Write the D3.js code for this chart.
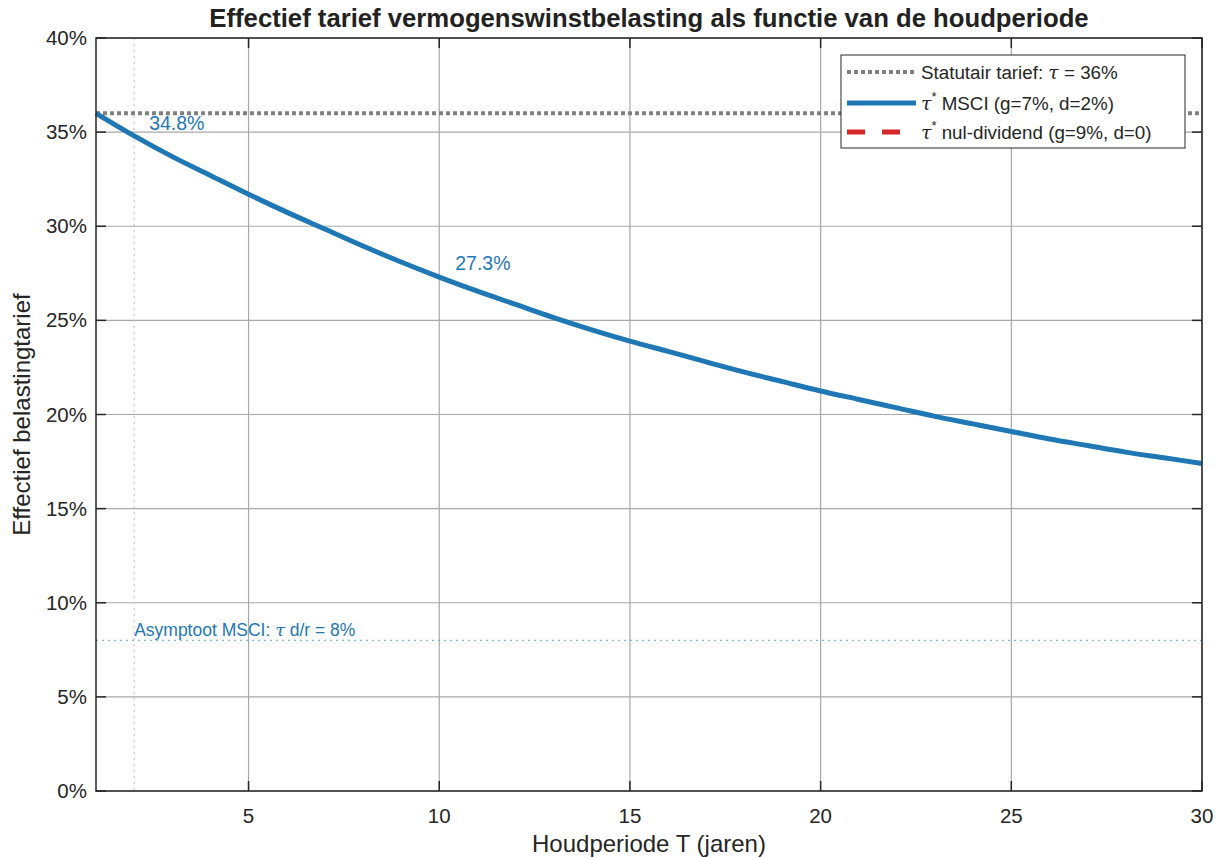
<!DOCTYPE html>
<html>
<head>
<meta charset="utf-8">
<script src="https://cdn.jsdelivr.net/npm/d3@7"></script>
<style>
  body { margin: 0; background: #fff; }
  svg { font-family: 'Liberation Sans', Arial, sans-serif; }
</style>
</head>
<body>
<svg id="chart" width="1222" height="858"></svg>
<script>
// holding period (years) and effective rate for the MSCI case (%)
const years = d3.range(1, 31)
const msciRate = [36.0, 34.8, 33.7, 32.7, 31.7, 30.75, 29.85, 28.95, 28.1, 27.3,
  26.55, 25.85, 25.15, 24.5, 23.9, 23.35, 22.8, 22.25, 21.75, 21.25,
  20.8, 20.35, 19.9, 19.5, 19.1, 18.7, 18.35, 18.0, 17.7, 17.4]
const statutoryRate = 36
const asymptoteRate = 8
const markerYear = 2
const xTicks = [5, 10, 15, 20, 25, 30]
const yTicks = [0, 5, 10, 15, 20, 25, 30, 35, 40]
const annotations = [
  { year: 2, value: 34.8, dx: 15, dy: -6 },
  { year: 10, value: 27.3, dx: 16, dy: -7 }
]

const BLUE = '#1f77b4'
const margin = { top: 38, right: 20, bottom: 67, left: 96 }
const width = 1222
const height = 858
const innerW = width - margin.left - margin.right
const innerH = height - margin.top - margin.bottom

const svg = d3.select('#chart')

const x = d3.scaleLinear().domain([1, 30]).range([0, innerW])
const y = d3.scaleLinear().domain([0, 40]).range([innerH, 0])

const g = svg.append('g').attr('transform', `translate(${margin.left},${margin.top})`)

// grid
g.append('g').selectAll('line').data(xTicks).enter().append('line')
  .attr('x1', d => x(d)).attr('x2', d => x(d))
  .attr('y1', 0).attr('y2', innerH)
  .attr('stroke', '#a8a8a8').attr('stroke-width', 1.2)

g.append('g').selectAll('line').data(yTicks).enter().append('line')
  .attr('x1', 0).attr('x2', innerW)
  .attr('y1', d => y(d)).attr('y2', d => y(d))
  .attr('stroke', '#a8a8a8').attr('stroke-width', 1.2)

// vertical marker at T = 2
g.append('line')
  .attr('x1', x(markerYear)).attr('x2', x(markerYear))
  .attr('y1', 0).attr('y2', innerH)
  .attr('stroke', '#c8c8c8').attr('stroke-width', 1.2)
  .attr('stroke-dasharray', '2,4')

// asymptote
g.append('line')
  .attr('x1', 0).attr('x2', innerW)
  .attr('y1', y(asymptoteRate)).attr('y2', y(asymptoteRate))
  .attr('stroke', '#7fb2dc').attr('stroke-width', 1.2)
  .attr('stroke-dasharray', '2,4')

g.append('text')
  .attr('x', x(markerYear)).attr('y', y(asymptoteRate) - 4)
  .attr('font-size', 17.5).attr('fill', BLUE)
  .html('Asymptoot MSCI: <tspan font-family="DejaVu Serif" font-style="italic">τ</tspan> d/r = 8%')

// statutory rate
g.append('line')
  .attr('x1', 0).attr('x2', innerW)
  .attr('y1', y(statutoryRate)).attr('y2', y(statutoryRate))
  .attr('stroke', '#808080').attr('stroke-width', 4)
  .attr('stroke-dasharray', '4,3')

// MSCI curve
const line = d3.line()
  .x((d, i) => x(years[i]))
  .y(d => y(d))
  .curve(d3.curveMonotoneX)

g.append('path')
  .datum(msciRate)
  .attr('fill', 'none')
  .attr('stroke', BLUE)
  .attr('stroke-width', 5)
  .attr('d', line)

g.selectAll('.annot').data(annotations).enter().append('text')
  .attr('class', 'annot')
  .attr('x', d => x(d.year) + d.dx)
  .attr('y', d => y(d.value) + d.dy)
  .attr('font-size', 19.5).attr('fill', BLUE)
  .text(d => d.value.toFixed(1) + '%')

// axes box
g.append('rect')
  .attr('width', innerW).attr('height', innerH)
  .attr('fill', 'none').attr('stroke', '#262626').attr('stroke-width', 1.5)

// tick marks (inside, all four sides)
const tk = 10
g.append('g').selectAll('line').data(xTicks).enter().append('line')
  .attr('x1', d => x(d)).attr('x2', d => x(d)).attr('y1', innerH).attr('y2', innerH - tk)
  .attr('stroke', '#262626').attr('stroke-width', 1.5)
g.append('g').selectAll('line').data(xTicks).enter().append('line')
  .attr('x1', d => x(d)).attr('x2', d => x(d)).attr('y1', 0).attr('y2', tk)
  .attr('stroke', '#262626').attr('stroke-width', 1.5)
g.append('g').selectAll('line').data(yTicks).enter().append('line')
  .attr('x1', 0).attr('x2', tk).attr('y1', d => y(d)).attr('y2', d => y(d))
  .attr('stroke', '#262626').attr('stroke-width', 1.5)
g.append('g').selectAll('line').data(yTicks).enter().append('line')
  .attr('x1', innerW).attr('x2', innerW - tk).attr('y1', d => y(d)).attr('y2', d => y(d))
  .attr('stroke', '#262626').attr('stroke-width', 1.5)

// tick labels
g.append('g').selectAll('text').data(xTicks).enter().append('text')
  .attr('x', d => x(d)).attr('y', innerH + 32)
  .attr('text-anchor', 'middle').attr('font-size', 20.5).attr('fill', '#262626')
  .text(d => d)

g.append('g').selectAll('text').data(yTicks).enter().append('text')
  .attr('x', -9).attr('y', d => y(d) + 7)
  .attr('text-anchor', 'end').attr('font-size', 20.5).attr('fill', '#262626')
  .text(d => d + '%')

// axis labels and title
svg.append('text')
  .attr('x', margin.left + innerW / 2).attr('y', 852)
  .attr('text-anchor', 'middle').attr('font-size', 24).attr('fill', '#262626')
  .text('Houdperiode T (jaren)')

svg.append('text')
  .attr('transform', `translate(30,${margin.top + innerH / 2}) rotate(-90)`)
  .attr('text-anchor', 'middle').attr('font-size', 24).attr('fill', '#262626')
  .text('Effectief belastingtarief')

svg.append('text')
  .attr('x', margin.left + innerW / 2).attr('y', 27)
  .attr('text-anchor', 'middle').attr('font-size', 25.7).attr('font-weight', 'bold').attr('fill', '#222')
  .text('Effectief tarief vermogenswinstbelasting als functie van de houdperiode')

// legend
const legend = svg.append('g').attr('transform', 'translate(841,55)')
legend.append('rect')
  .attr('width', 344).attr('height', 93)
  .attr('fill', '#fff').attr('stroke', '#262626').attr('stroke-width', 1)

const legendItems = [
  { color: '#808080', dash: '4,3', w: 4, label: 'Statutair tarief: <tspan font-family="DejaVu Serif" font-style="italic">τ</tspan> = 36%' },
  { color: BLUE, dash: null, w: 5, label: '<tspan font-family="DejaVu Serif" font-style="italic">τ</tspan><tspan dy="-9" font-size="13">*</tspan><tspan dy="9"> MSCI (g=7%, d=2%)</tspan>' },
  { color: '#d62728', dash: '18,17', w: 5, label: '<tspan font-family="DejaVu Serif" font-style="italic">τ</tspan><tspan dy="-9" font-size="13">*</tspan><tspan dy="9"> nul-dividend (g=9%, d=0)</tspan>' }
]
const rowY = [17, 48, 77]

legend.selectAll('.li').data(legendItems).enter().append('g')
  .attr('class', 'li')
  .attr('transform', (d, i) => `translate(0,${rowY[i]})`)
  .each(function (d) {
    const row = d3.select(this)
    row.append('line')
      .attr('x1', 6).attr('x2', 75).attr('y1', 0).attr('y2', 0)
      .attr('stroke', d.color).attr('stroke-width', d.w)
      .attr('stroke-dasharray', d.dash)
    row.append('text')
      .attr('x', 80).attr('y', 7)
      .attr('font-size', 18.8).attr('fill', '#262626')
      .html(d.label)
  })
</script>
</body>
</html>
